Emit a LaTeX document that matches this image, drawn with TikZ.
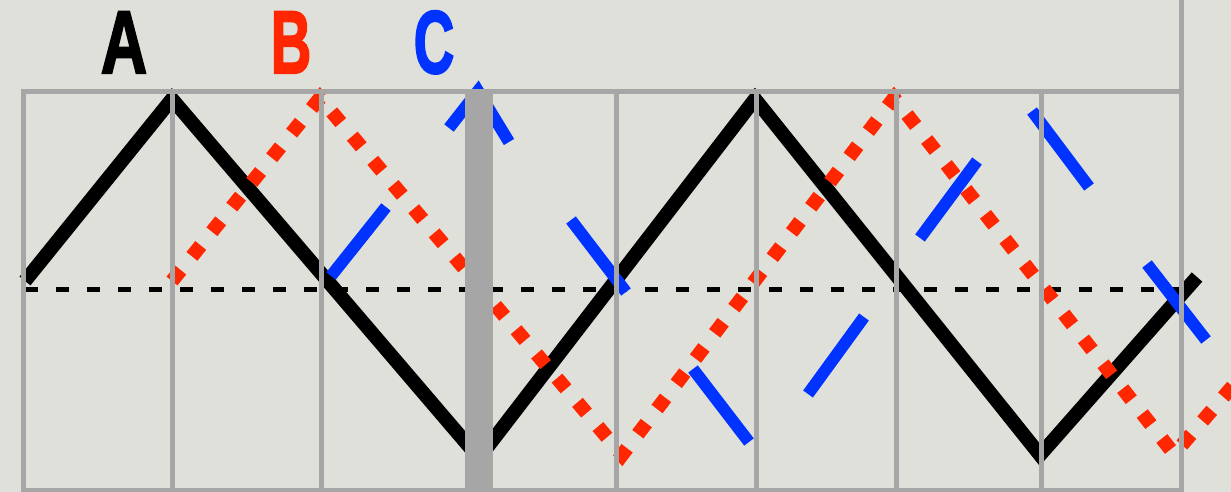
\documentclass[tikz,border=0pt]{standalone}
\usepackage{fontspec}
\newfontfamily\labelfont{Liberation Sans}[BoldFeatures={FakeBold=2.5}]

\definecolor{paper}{RGB}{224,224,218}
\definecolor{rule}{RGB}{166,166,166}
\definecolor{waveRed}{RGB}{255,38,0}
\definecolor{waveBlue}{RGB}{0,51,255}

\tikzset{
  gridline/.style={draw=rule, line width=5pt},
  midline/.style={draw=black, line width=5pt, dash pattern=on 13pt off 18pt},
  waveA/.style={draw=black, line width=14pt},
  waveB/.style={draw=waveRed, line width=14pt, dash pattern=on 14pt off 17.7pt},
  waveC/.style={draw=waveBlue, line width=12pt},
  letter/.style={anchor=base, inner sep=0pt,
    font=\labelfont\bfseries\fontsize{89pt}{89pt}\selectfont},
}

\begin{document}
\begin{tikzpicture}[x=1pt, y=-1pt]
  \useasboundingbox (0,0) rectangle (1231,492);
  \clip (0,0) rectangle (1231,492);
  \fill[paper] (0,0) rectangle (1231,492);

  % channel labels
  \node[letter, text=black]    (labA) at (124,73) {\scalebox{0.72}[1]{A}};
  \node[letter, text=waveRed]  (labB) at (291,73) {\scalebox{0.63}[1]{B}};
  \node[letter, text=waveBlue] (labC) at (434,73) {\scalebox{0.63}[1]{C}};

  % reference level
  \draw[midline] (25,289) -- (1180,289);

  % wave A (solid)
  \draw[waveA] (25,281) -- (172,99) -- (479,458) -- (755,99) -- (1040,455) -- (1197,277);

  % wave B (dotted)
  \draw[waveB] (172,281) -- (320,98) -- (622,455) -- (894,98) -- (1174,454) -- (1264,350);

  % wave C (long dashes)
  \draw[waveC] (331,276) -- (386,207);
  \draw[waveC] (449,128) -- (478,91) -- (509,142);
  \draw[waveC] (571,220) -- (626,292);
  \draw[waveC] (693,369) -- (749,442);
  \draw[waveC] (808,394) -- (864,317);
  \draw[waveC] (920,238) -- (977,161);
  \draw[waveC] (1032,111) -- (1089,187);
  \draw[waveC] (1147,264) -- (1206,340);

  % grid
  \draw[gridline] (21,91.5) -- (1183,91.5);
  \draw[gridline] (21,490) -- (1183,490);
  \draw[gridline] (23.5,89) -- (23.5,492);
  \foreach \gx in {172,321,616,756,896,1041}
    \draw[gridline] (\gx,91.5) -- (\gx,492);
  \draw[gridline] (1181,0) -- (1181,492);

  % broad separator
  \fill[rule] (465,89) rectangle (493,492);
\end{tikzpicture}
\end{document}
